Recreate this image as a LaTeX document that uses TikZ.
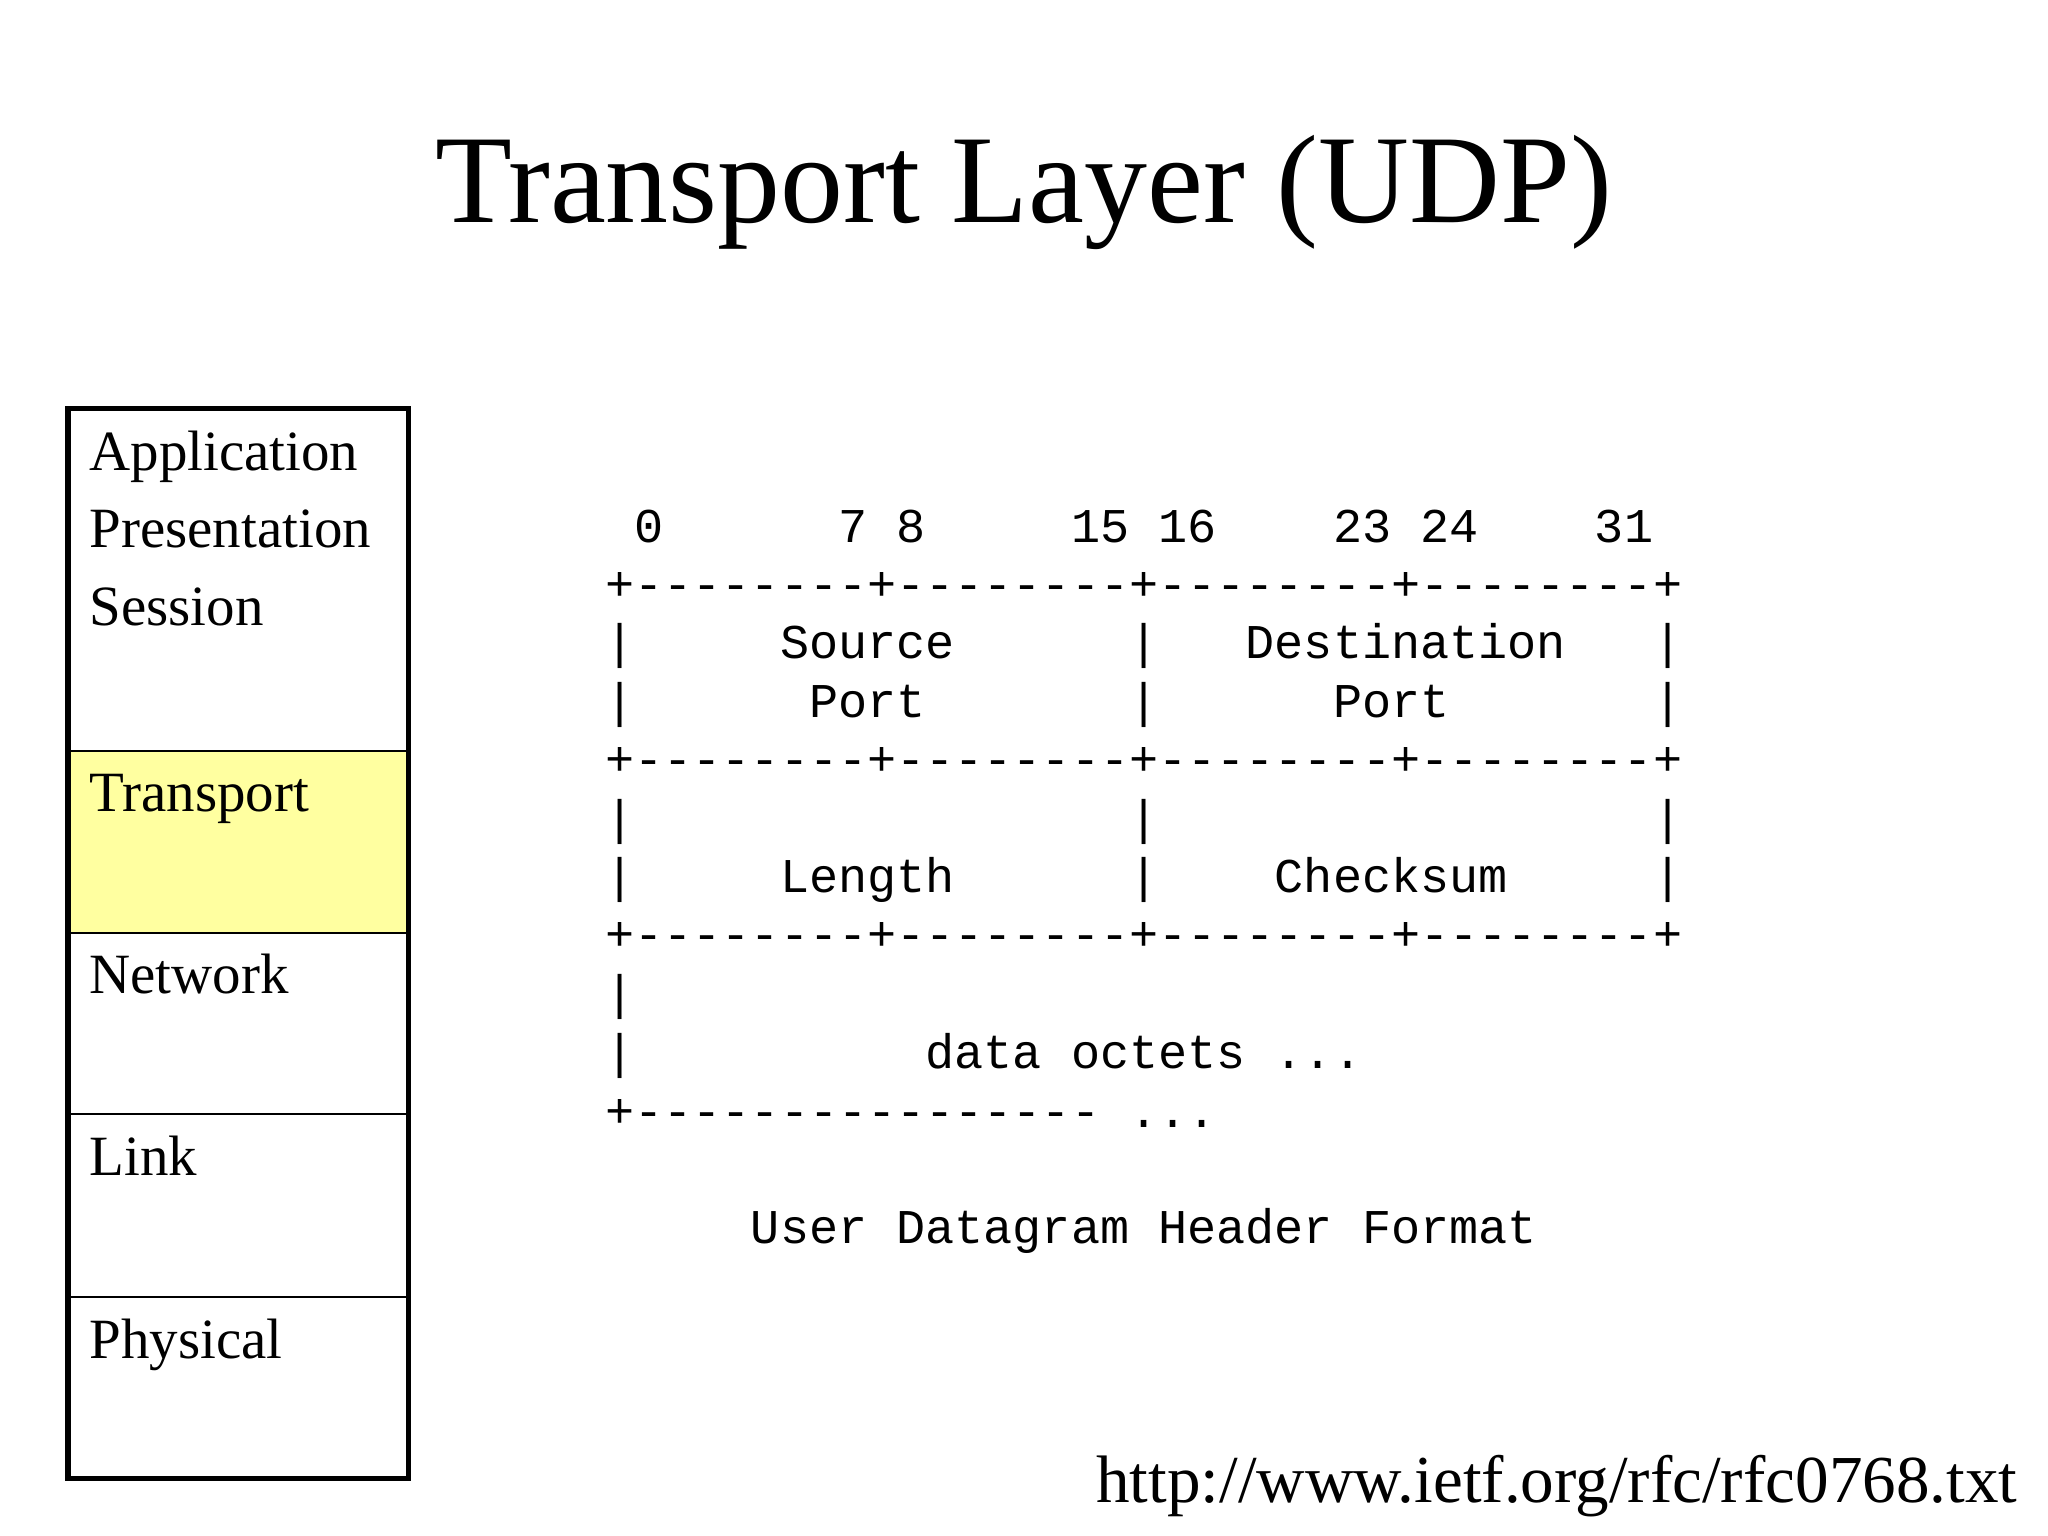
\documentclass[tikz,border=0pt]{standalone}
\usepackage{fontspec}
\setmainfont{Liberation Serif}
\setmonofont{Liberation Mono}
\definecolor{tyellow}{RGB}{255,255,160}
\begin{document}
\begin{tikzpicture}[x=0.01306cm,y=-0.01306cm,
  layer/.style={anchor=base west,inner sep=0pt,font=\fontsize{16.2}{20}\selectfont},
  mono/.style={anchor=base west,inner sep=0pt,font=\fontsize{13.8}{16}\ttfamily}]
\useasboundingbox (0,0) rectangle (1568,1176);
\node[anchor=base,inner sep=0pt,font=\fontsize{35.8}{42}\selectfont] (title) at (784,170) {Transport Layer (UDP)};
\fill[tyellow] (52,575) rectangle (313,714);
\draw[line width=1.5pt] (52,313) rectangle (313,1132);
\foreach \y in {575,714,853,993} \draw[line width=0.6pt] (52,\y) -- (313,\y);
\node[layer] (app) at (68,360) {Application};
\node[layer] (pres) at (68,419) {Presentation};
\node[layer] (sess) at (68,479) {Session};
\node[layer] (tr) at (68,621) {Transport};
\node[layer] (net) at (68,761) {Network};
\node[layer] (lnk) at (68,900) {Link};
\node[layer] (phy) at (68,1040) {Physical};
\node[mono] (l1) at (463,415) {~0~~~~~~7~8~~~~~15~16~~~~23~24~~~~31};
\node[mono] (l2) at (463,460) {+--------+--------+--------+--------+};
\node[mono] (l3) at (463,504) {|~~~~~Source~~~~~~|~~~Destination~~~|};
\node[mono] (l4) at (463,549) {|~~~~~~Port~~~~~~~|~~~~~~Port~~~~~~~|};
\node[mono] (l5) at (463,594) {+--------+--------+--------+--------+};
\node[mono] (l6) at (463,639) {|~~~~~~~~~~~~~~~~~|~~~~~~~~~~~~~~~~~|};
\node[mono] (l7) at (463,683) {|~~~~~Length~~~~~~|~~~~Checksum~~~~~|};
\node[mono] (l8) at (463,728) {+--------+--------+--------+--------+};
\node[mono] (l9) at (463,773) {|};
\node[mono] (l10) at (463,818) {|~~~~~~~~~~data~octets~...};
\node[mono] (l11) at (463,863) {+----------------~...};
\node[mono] (l12) at (463,952) {~~~~~User~Datagram~Header~Format};
\node[anchor=base east,inner sep=0pt,font=\fontsize{19.1}{23}\selectfont] (url) at (1545,1150) {http://www.ietf.org/rfc/rfc0768.txt};
\end{tikzpicture}
\end{document}
